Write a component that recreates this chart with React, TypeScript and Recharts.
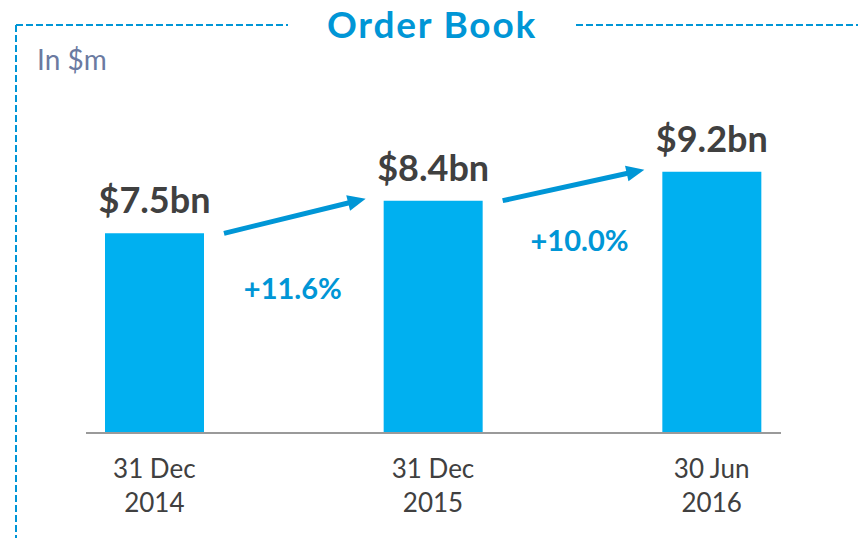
import { BarChart, Bar, XAxis, YAxis, LabelList } from 'recharts';

const categories = ['31 Dec 2014', '31 Dec 2015', '30 Jun 2016'];
const orderBook = [7.5, 8.4, 9.2];
const valueLabels = ['$7.5bn', '$8.4bn', '$9.2bn'];
const growthLabels = ['+11.6%', '+10.0%'];

const data = categories.map((name, i) => ({ name, value: orderBook[i] }));

const W = 858;
const H = 538;
const MARGIN = { top: 70, right: 7, bottom: 15, left: 15 };
const Y_MIN = 2;
const Y_MAX = 12;
const STEP = (W - MARGIN.left - MARGIN.right) / categories.length;
// hand placed growth text, relative to arrow middle
const GROWTH_OFFSET = [{ dx: -2, dy: 71 }, { dx: 6, dy: 54 }];

const FONT = 'Lato, "Open Sans", sans-serif';
const BAR = '#00B0F0';
const ACCENT = '#0096D6';
const DARK = '#404040';

function Arrow({ x1, y1, x2, y2 }: { x1: number; y1: number; x2: number; y2: number }) {
  const len = Math.hypot(x2 - x1, y2 - y1);
  const ux = (x2 - x1) / len;
  const uy = (y2 - y1) / len;
  const head = 18;
  const half = 8;
  const bx = x2 - ux * head;
  const by = y2 - uy * head;
  return (
    <g>
      <line x1={x1} y1={y1} x2={bx + ux} y2={by + uy} stroke={ACCENT} strokeWidth={5} />
      <polygon
        points={`${x2},${y2} ${bx - uy * half},${by + ux * half} ${bx + uy * half},${by - ux * half}`}
        fill={ACCENT}
      />
    </g>
  );
}

function BarLabel(props: any) {
  const { x, y, width, height, index } = props;
  const cx = x + width / 2;
  const base = y + height;
  const perUnit = height / (orderBook[index] - Y_MIN);
  let extra = null;
  if (index < orderBook.length - 1) {
    const nextTop = base - (orderBook[index + 1] - Y_MIN) * perUnit;
    const nextLeft = x + STEP;
    const ax1 = x + width + 20;
    const ay1 = y;
    const ax2 = nextLeft - 18;
    const ay2 = nextTop - 2;
    const off = GROWTH_OFFSET[index];
    extra = (
      <g>
        <Arrow x1={ax1} y1={ay1} x2={ax2} y2={ay2} />
        <text
          x={(ax1 + ax2) / 2 + off.dx}
          y={(ay1 + ay2) / 2 + off.dy}
          textAnchor="middle"
          dominantBaseline="central"
          fill={ACCENT}
          fontSize={29}
          fontWeight={700}
          fontFamily={FONT}
        >
          {growthLabels[index]}
        </text>
      </g>
    );
  }
  return (
    <g>
      <text x={cx} y={y - 20} textAnchor="middle" fill={DARK} fontSize={36} fontWeight={700} fontFamily={FONT}>
        {valueLabels[index]}
      </text>
      {extra}
    </g>
  );
}

function DateTick(props: any) {
  const { x, y, payload } = props;
  const s: string = payload.value;
  const cut = s.lastIndexOf(' ');
  return (
    <text x={x} y={y} textAnchor="middle" fill={DARK} fontSize={26} fontFamily={FONT}>
      <tspan x={x} dy={45}>{s.slice(0, cut)}</tspan>
      <tspan x={x} dy={34}>{s.slice(cut + 1)}</tspan>
    </text>
  );
}

export default function App() {
  return (
    <div style={{ position: 'absolute', left: 0, top: 0, width: W, height: H, background: '#fff' }}>
      <BarChart width={W} height={H} data={data} margin={MARGIN}>
        <XAxis
          dataKey="name"
          height={90}
          tickLine={false}
          tickSize={0}
          tickMargin={0}
          axisLine={{ stroke: '#9a9a9a', strokeWidth: 2, strokeDasharray: '0 71 695 2000' }}
          tick={<DateTick />}
          interval={0}
        />
        <YAxis hide domain={[Y_MIN, Y_MAX]} allowDataOverflow />
        <Bar dataKey="value" fill={BAR} barSize={99} isAnimationActive={false}>
          <LabelList dataKey="value" content={<BarLabel />} />
        </Bar>
      </BarChart>
      <svg width={W} height={H} style={{ position: 'absolute', left: 0, top: 0, pointerEvents: 'none' }}>
        <g stroke={ACCENT} strokeWidth={2} strokeDasharray="7 3" fill="none">
          <line x1={16} y1={25} x2={288} y2={25} />
          <line x1={576} y1={25} x2={W} y2={25} />
          <line x1={16} y1={25} x2={16} y2={H} />
        </g>
        <text
          x={432}
          y={38}
          textAnchor="middle"
          fill={ACCENT}
          fontSize={37}
          fontWeight={700}
          letterSpacing={1.8}
          fontFamily={FONT}
        >
          Order Book
        </text>
        <text x={37} y={70} fill="#6b7aa1" fontSize={28} fontFamily={FONT}>
          In $m
        </text>
      </svg>
    </div>
  );
}
